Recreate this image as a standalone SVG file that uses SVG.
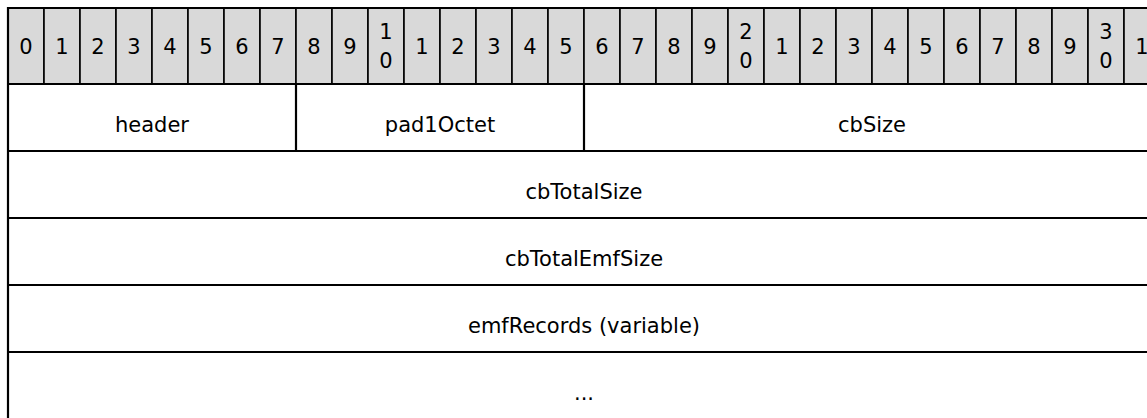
<svg xmlns="http://www.w3.org/2000/svg" width="1147" height="418" viewBox="0 0 1147 418">
<style>
text{font-family:"DejaVu Sans",Verdana,sans-serif;font-size:21px;fill:#000;text-anchor:middle}
.hc{fill:#d9d9d9;stroke:#000;stroke-width:1.6}
.ln{stroke:#000;stroke-width:2.2;fill:none}
</style>
<rect width="1147" height="418" fill="#fff"/>
<g id="bit-header">
<rect class="hc" x="8" y="8" width="36" height="76"/>
<rect class="hc" x="44" y="8" width="36" height="76"/>
<rect class="hc" x="80" y="8" width="36" height="76"/>
<rect class="hc" x="116" y="8" width="36" height="76"/>
<rect class="hc" x="152" y="8" width="36" height="76"/>
<rect class="hc" x="188" y="8" width="36" height="76"/>
<rect class="hc" x="224" y="8" width="36" height="76"/>
<rect class="hc" x="260" y="8" width="36" height="76"/>
<rect class="hc" x="296" y="8" width="36" height="76"/>
<rect class="hc" x="332" y="8" width="36" height="76"/>
<rect class="hc" x="368" y="8" width="36" height="76"/>
<rect class="hc" x="404" y="8" width="36" height="76"/>
<rect class="hc" x="440" y="8" width="36" height="76"/>
<rect class="hc" x="476" y="8" width="36" height="76"/>
<rect class="hc" x="512" y="8" width="36" height="76"/>
<rect class="hc" x="548" y="8" width="36" height="76"/>
<rect class="hc" x="584" y="8" width="36" height="76"/>
<rect class="hc" x="620" y="8" width="36" height="76"/>
<rect class="hc" x="656" y="8" width="36" height="76"/>
<rect class="hc" x="692" y="8" width="36" height="76"/>
<rect class="hc" x="728" y="8" width="36" height="76"/>
<rect class="hc" x="764" y="8" width="36" height="76"/>
<rect class="hc" x="800" y="8" width="36" height="76"/>
<rect class="hc" x="836" y="8" width="36" height="76"/>
<rect class="hc" x="872" y="8" width="36" height="76"/>
<rect class="hc" x="908" y="8" width="36" height="76"/>
<rect class="hc" x="944" y="8" width="36" height="76"/>
<rect class="hc" x="980" y="8" width="36" height="76"/>
<rect class="hc" x="1016" y="8" width="36" height="76"/>
<rect class="hc" x="1052" y="8" width="36" height="76"/>
<rect class="hc" x="1088" y="8" width="36" height="76"/>
<rect class="hc" x="1124" y="8" width="36" height="76"/>
<text x="26" y="54">0</text>
<text x="62" y="54">1</text>
<text x="98" y="54">2</text>
<text x="134" y="54">3</text>
<text x="170" y="54">4</text>
<text x="206" y="54">5</text>
<text x="242" y="54">6</text>
<text x="278" y="54">7</text>
<text x="314" y="54">8</text>
<text x="350" y="54">9</text>
<text x="386" y="39">1</text><text x="386" y="68">0</text>
<text x="422" y="54">1</text>
<text x="458" y="54">2</text>
<text x="494" y="54">3</text>
<text x="530" y="54">4</text>
<text x="566" y="54">5</text>
<text x="602" y="54">6</text>
<text x="638" y="54">7</text>
<text x="674" y="54">8</text>
<text x="710" y="54">9</text>
<text x="746" y="39">2</text><text x="746" y="68">0</text>
<text x="782" y="54">1</text>
<text x="818" y="54">2</text>
<text x="854" y="54">3</text>
<text x="890" y="54">4</text>
<text x="926" y="54">5</text>
<text x="962" y="54">6</text>
<text x="998" y="54">7</text>
<text x="1034" y="54">8</text>
<text x="1070" y="54">9</text>
<text x="1106" y="39">3</text><text x="1106" y="68">0</text>
<text x="1142" y="54">1</text>
</g>
<g id="connectors">
<line class="ln" x1="8" y1="8" x2="1147" y2="8"/>
<line class="ln" x1="8" y1="84" x2="1147" y2="84"/>
<line class="ln" x1="8" y1="151" x2="1147" y2="151"/>
<line class="ln" x1="8" y1="218" x2="1147" y2="218"/>
<line class="ln" x1="8" y1="285" x2="1147" y2="285"/>
<line class="ln" x1="8" y1="352" x2="1147" y2="352"/>
<line class="ln" x1="8" y1="7" x2="8" y2="418"/>
<line class="ln" x1="296" y1="84" x2="296" y2="151"/>
<line class="ln" x1="584" y1="84" x2="584" y2="151"/>
</g>
<g id="field-header"><text x="152" y="132">header</text></g>
<g id="field-pad1Octet"><text x="440" y="132">pad1Octet</text></g>
<g id="field-cbSize"><text x="872" y="132">cbSize</text></g>
<g id="field-cbTotalSize"><text x="584" y="199">cbTotalSize</text></g>
<g id="field-cbTotalEmfSize"><text x="584" y="266">cbTotalEmfSize</text></g>
<g id="field-emfRecords"><text x="584" y="333">emfRecords (variable)</text></g>
<g id="field-more"><text x="584" y="400">...</text></g>
</svg>
